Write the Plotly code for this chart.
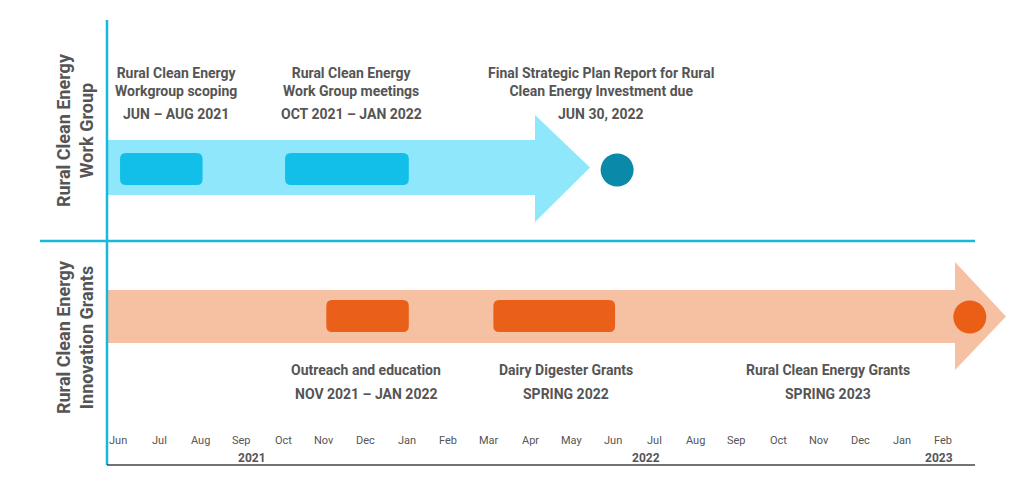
import plotly.graph_objects as go

# month index 0 = Jun 2021
months = ["Jun", "Jul", "Aug", "Sep", "Oct", "Nov", "Dec", "Jan", "Feb", "Mar", "Apr",
          "May", "Jun", "Jul", "Aug", "Sep", "Oct", "Nov", "Dec", "Jan", "Feb"]
years = ["2021", "2022", "2023"]
year_pos = [3.25, 12.8, 19.9]

top_bars = [(0.05, 2.05), (4.05, 7.05)]
bot_bars = [(5.05, 7.05), (9.1, 12.05)]
top_milestone = 12.1
bot_milestone = 20.65

top_labels = [
    (1.4, "Rural Clean Energy<br>Workgroup scoping", "JUN – AUG 2021"),
    (5.65, "Rural Clean Energy<br>Work Group meetings", "OCT 2021 – JAN 2022"),
    (11.7, "Final Strategic Plan Report for Rural<br>Clean Energy Investment due", "JUN 30, 2022"),
]
bot_labels = [
    (6.0, "Outreach and education", "NOV 2021 – JAN 2022"),
    (10.85, "Dairy Digester Grants", "SPRING 2022"),
    (17.2, "Rural Clean Energy Grants", "SPRING 2023"),
]

PXM = 41.25
def X(px):
    return (px - 118) / PXM

GREY = "#555555"
CYAN = "#1ab8d8"
fig = go.Figure()
shapes = []

def arrow(x0, x1, xh, yb0, yb1, yh0, yh1, color):
    ym = (yb0 + yb1) / 2
    return dict(type="path", xref="x", yref="y", fillcolor=color, line=dict(width=0),
                path=f"M{x0},{yb0} L{xh},{yb0} L{xh},{yh0} L{x1},{ym} L{xh},{yh1} L{xh},{yb1} L{x0},{yb1} Z",
                layer="below")

shapes.append(arrow(X(107), X(590), X(535), 140, 195, 115, 222, "#8ee7fa"))
shapes.append(arrow(X(107), X(1006), X(955), 290, 343, 262, 370, "#f6c0a2"))

def rbar(a, b, y0, y1, color):
    rx, ry = 0.14, 6
    p = (f"M{a+rx},{y0} L{b-rx},{y0} Q{b},{y0} {b},{y0+ry} L{b},{y1-ry} Q{b},{y1} {b-rx},{y1} "
         f"L{a+rx},{y1} Q{a},{y1} {a},{y1-ry} L{a},{y0+ry} Q{a},{y0} {a+rx},{y0} Z")
    return dict(type="path", xref="x", yref="y", path=p, fillcolor=color, line=dict(width=0))

for a, b in top_bars:
    shapes.append(rbar(a, b, 153, 185, "#12bfe8"))
for a, b in bot_bars:
    shapes.append(rbar(a, b, 300, 332, "#ea6019"))

shapes.append(dict(type="line", xref="x", yref="y", x0=X(107), x1=X(107), y0=20, y1=465,
                   line=dict(color=CYAN, width=2.5)))
shapes.append(dict(type="line", xref="x", yref="y", x0=X(40), x1=X(975), y0=241, y1=241,
                   line=dict(color=CYAN, width=2.5)))
shapes.append(dict(type="line", xref="x", yref="y", x0=X(107), x1=X(975), y0=465, y1=465,
                   line=dict(color="#444", width=1.5)))

fig.add_trace(go.Scatter(x=[top_milestone], y=[170], mode="markers",
                         marker=dict(size=33, color="#0a8aa8"), hoverinfo="skip"))
fig.add_trace(go.Scatter(x=[bot_milestone], y=[317], mode="markers",
                         marker=dict(size=33, color="#ea5e16"), hoverinfo="skip"))

ann = []
for x, t, d in top_labels:
    ann.append(dict(x=x, y=63, text=f"<b>{t}</b>", showarrow=False, yanchor="top",
                    font=dict(size=14, color=GREY)))
    ann.append(dict(x=x, y=114, text=f"<b>{d}</b>", showarrow=False,
                    font=dict(size=14, color=GREY)))
for x, t, d in bot_labels:
    ann.append(dict(x=x, y=370, text=f"<b>{t}</b>", showarrow=False,
                    font=dict(size=14, color=GREY)))
    ann.append(dict(x=x, y=394, text=f"<b>{d}</b>", showarrow=False,
                    font=dict(size=14, color=GREY)))
for i, m in enumerate(months):
    ann.append(dict(x=i, y=440, text=m, showarrow=False, font=dict(size=11, color=GREY)))
for x, t in zip(year_pos, years):
    ann.append(dict(x=x, y=458, text=f"<b>{t}</b>", showarrow=False, font=dict(size=12, color=GREY)))
ann.append(dict(x=X(75), y=130, text="<b>Rural Clean Energy<br>Work Group</b>", textangle=-90,
                showarrow=False, font=dict(size=18, color=GREY)))
ann.append(dict(x=X(75), y=337, text="<b>Rural Clean Energy<br>Innovation Grants</b>", textangle=-90,
                showarrow=False, font=dict(size=18, color=GREY)))
for a in ann:
    a.update(xref="x", yref="y")

# page has an 8px body margin, so shift the view to compensate
fig.update_layout(
    width=1024, height=492, margin=dict(l=0, r=0, t=0, b=0),
    paper_bgcolor="white", plot_bgcolor="white", showlegend=False,
    font=dict(family="Roboto"),
    xaxis=dict(range=[X(8), X(1032)], visible=False, fixedrange=True),
    yaxis=dict(range=[500, 8], visible=False, fixedrange=True),
    shapes=shapes, annotations=ann,
)
fig.write_html("out.html")
